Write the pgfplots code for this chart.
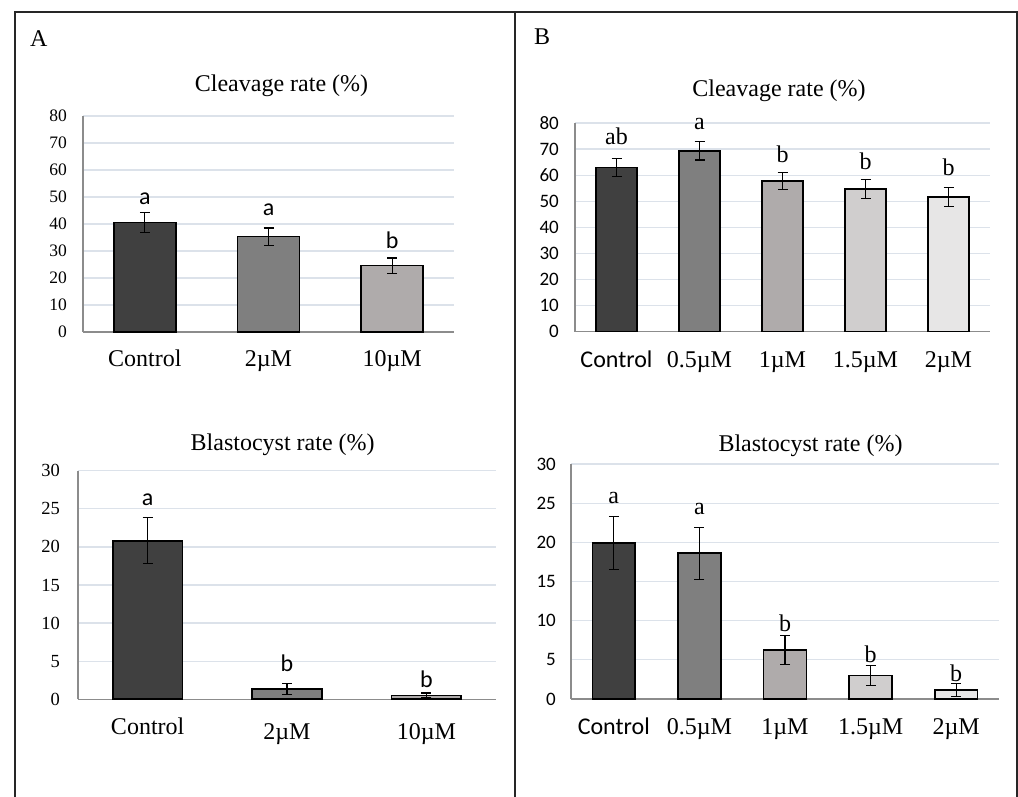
\documentclass[border=0pt]{standalone}
\usepackage{fontspec}
\setmainfont{Liberation Serif}
\newfontfamily\calfont{Carlito}
\usepackage{pgfplots}
\pgfplotsset{compat=1.18}
\definecolor{c1}{HTML}{404040}
\definecolor{c2}{HTML}{7F7F7F}
\definecolor{c3}{HTML}{AFABAB}
\definecolor{c4}{HTML}{D0CECE}
\definecolor{c5}{HTML}{E7E6E6}
\definecolor{axgray}{HTML}{8C8C8C}
\definecolor{gridc}{HTML}{DCE2EA}
\newcommand\fs{\fontsize{24}{28}\selectfont}
\pgfplotsset{
  base/.style={scale only axis, anchor=south west,
    axis x line*=bottom, axis y line*=left,
    axis line style={draw=axgray, line width=1.5pt, -},
    ymin=0, enlarge x limits=false,
    ymajorgrids, grid style={draw=gridc, line width=1.3pt},
    major tick length=0pt,
    ybar, bar width=0.5, bar shift=0pt,
    /pgf/number format/assume math mode=true,
    xticklabel style={anchor=base, font=\fs},
    clip=false},
  onebar/.style={fill=#1, draw=black, line width=1.6pt,
    error bars/.cd, y dir=both, y explicit,
    error mark=-,
    error bar style={black, line width=1.1pt},
    error mark options={black, line width=1.1pt, mark size=5pt, rotate=90}},
}
\begin{document}
\begin{tikzpicture}
\useasboundingbox (0,0) rectangle (1018pt,797pt);
% frame
\draw[line width=2pt, black!85] (15pt,0pt) -- (15pt,785pt) -- (1017pt,785pt) -- (1017pt,0pt);
\draw[line width=2pt, black!85] (515pt,0pt) -- (515pt,785pt);
\node[anchor=base west, font=\fs, inner sep=0pt] at (30pt,750.3pt) {A};
\node[anchor=base west, font=\fs, inner sep=0pt] at (534pt,752pt) {B};
\node[anchor=base, font=\fs, inner sep=0pt] at (281.5pt,705.3pt) {Cleavage rate (\%)};
\node[anchor=base, font=\fs, inner sep=0pt] at (779pt,700.3pt) {Cleavage rate (\%)};
\node[anchor=base, font=\fs, inner sep=0pt] at (282.7pt,346.3pt) {Blastocyst rate (\%)};
\node[anchor=base, font=\fs, inner sep=0pt] at (810.5pt,345.3pt) {Blastocyst rate (\%)};

% A top
\begin{axis}[base, at={(83pt,465pt)}, width=371pt, height=216pt,
  xmin=-0.5, xmax=2.5, ymax=80, ytick={0,10,...,80},
  xtick={0,1,2}, xticklabels={Control,2µM,10µM},
  xticklabel style={yshift=-35pt},
  yticklabel style={font=\fontsize{17.5}{17.5}\selectfont, inner sep=0pt, xshift=-16pt}]
\addplot[onebar=c1] coordinates {(0,40.5) +- (0,3.6)};
\addplot[onebar=c2] coordinates {(1,35.3) +- (0,3.2)};
\addplot[onebar=c3] coordinates {(2,24.6) +- (0,2.8)};
\node[anchor=base, font=\calfont\fs, inner sep=0pt] at (axis cs:0,47.4) {a};
\node[anchor=base, font=\calfont\fs, inner sep=0pt] at (axis cs:1,43.0) {a};
\node[anchor=base, font=\calfont\fs, inner sep=0pt] at (axis cs:2,31.0) {b};
\end{axis}

% A bottom
\begin{axis}[base, at={(78pt,97.7pt)}, width=418pt, height=228.6pt,
  xmin=-0.5, xmax=2.5, ymax=30, ytick={0,5,...,30},
  xtick={0,1,2}, xticklabels={\raisebox{5pt}{Control},2µM,10µM},
  xticklabel style={yshift=-40pt},
  yticklabel style={font=\fontsize{18.5}{18.5}\selectfont, inner sep=0pt, xshift=-18pt}]
\addplot[onebar=c1] coordinates {(0,20.8) +- (0,3.0)};
\addplot[onebar=c2] coordinates {(1,1.35) +- (0,0.7)};
\addplot[onebar=c3] coordinates {(2,0.52) +- (0,0.3)};
\node[anchor=base, font=\calfont\fs, inner sep=0pt] at (axis cs:0,25.4) {a};
\node[anchor=base, font=\calfont\fs, inner sep=0pt] at (axis cs:1,3.6) {b};
\node[anchor=base, font=\calfont\fs, inner sep=0pt] at (axis cs:2,1.6) {b};
\end{axis}

% B top
\begin{axis}[base, at={(575pt,465.3pt)}, width=415pt, height=208.7pt,
  xmin=-0.5, xmax=4.5, ymax=80, ytick={0,10,...,80},
  xtick={0,1,2,3,4}, xticklabels={{\calfont Control},0.5µM,1µM,1.5µM,2µM},
  xticklabel style={yshift=-36pt},
  yticklabel style={font=\calfont\fontsize{19}{19}\selectfont, inner sep=0pt, xshift=-16pt}]
\addplot[onebar=c1] coordinates {(0,63.0) +- (0,3.4)};
\addplot[onebar=c2] coordinates {(1,69.3) +- (0,3.5)};
\addplot[onebar=c3] coordinates {(2,57.7) +- (0,3.3)};
\addplot[onebar=c4] coordinates {(3,54.7) +- (0,3.5)};
\addplot[onebar=c5] coordinates {(4,51.7) +- (0,3.6)};
\node[anchor=base, font=\fs, inner sep=0pt] at (axis cs:0,71.9) {ab};
\node[anchor=base, font=\fs, inner sep=0pt] at (axis cs:1,77.5) {a};
\node[anchor=base, font=\fs, inner sep=0pt] at (axis cs:2,64.9) {b};
\node[anchor=base, font=\fs, inner sep=0pt] at (axis cs:3,62.0) {b};
\node[anchor=base, font=\fs, inner sep=0pt] at (axis cs:4,60.0) {b};
\end{axis}

% B bottom
\begin{axis}[base, at={(571pt,98pt)}, width=428pt, height=235pt,
  xmin=-0.5, xmax=4.5, ymax=30, ytick={0,5,...,30},
  xtick={0,1,2,3,4}, xticklabels={{\calfont Control},0.5µM,1µM,1.5µM,2µM},
  xticklabel style={yshift=-36pt},
  yticklabel style={font=\calfont\fontsize{19}{19}\selectfont, inner sep=0pt, xshift=-15pt}]
\addplot[onebar=c1] coordinates {(0,19.9) +- (0,3.4)};
\addplot[onebar=c2] coordinates {(1,18.6) +- (0,3.3)};
\addplot[onebar=c3] coordinates {(2,6.26) +- (0,1.9)};
\addplot[onebar=c4] coordinates {(3,3.0) +- (0,1.25)};
\addplot[onebar=c5] coordinates {(4,1.15) +- (0,0.8)};
\node[anchor=base, font=\fs, inner sep=0pt] at (axis cs:0,24.9) {a};
\node[anchor=base, font=\fs, inner sep=0pt] at (axis cs:1,23.6) {a};
\node[anchor=base, font=\fs, inner sep=0pt] at (axis cs:2,8.6) {b};
\node[anchor=base, font=\fs, inner sep=0pt] at (axis cs:3,4.6) {b};
\node[anchor=base, font=\fs, inner sep=0pt] at (axis cs:4,2.2) {b};
\end{axis}
\end{tikzpicture}
\end{document}
